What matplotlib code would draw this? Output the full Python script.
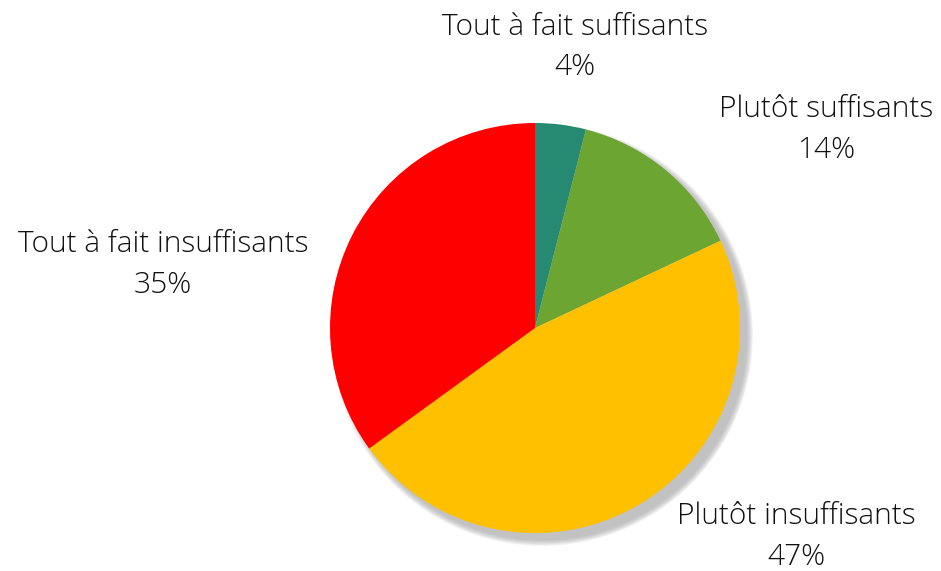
import numpy as np
import matplotlib
matplotlib.use('Agg')
from matplotlib import pyplot as plt
from matplotlib.patches import Circle

# data
categories = ['Tout à fait suffisants', 'Plutôt suffisants', 'Plutôt insuffisants', 'Tout à fait insuffisants']
values = [4, 14, 47, 35]
colors = ['#268A73', '#6CA532', '#FFC000', '#FF0000']

# label block centres (pie radius units)
label_pos = [(0.195, 1.37), (1.42, 0.966), (1.273, -1.02), (-1.815, 0.307)]

plt.rcParams['font.family'] = ['Open Sans', 'DejaVu Sans']

fig = plt.figure(figsize=(9.41, 5.71), dpi=100)
ax = fig.add_axes([330/941., 38/571., 410/941., 410/571.])

# soft shadow to the lower right
for k in range(8):
    ax.add_patch(Circle((0.035, -0.035), 1.0 + 0.004*(7 - k), color='#a0a0a0',
                        alpha=0.11, lw=0, zorder=0, clip_on=False))

wedges, _ = ax.pie(values, colors=colors, startangle=90, counterclock=False,
                   radius=1.0, wedgeprops=dict(linewidth=0))
for w in wedges:
    w.set_zorder(2); w.set_clip_on(False)

for (x, y), name, v in zip(label_pos, categories, values):
    ax.text(x, y, '%s\n%d%%' % (name, v), ha='center', va='center', fontsize=21.5,
            fontweight='light', color='#111111', linespacing=1.5, clip_on=False)

ax.set_xlim(-1, 1); ax.set_ylim(-1, 1)
ax.set_aspect('equal')
ax.axis('off')
plt.savefig('out.png', dpi=100)
plt.close()
